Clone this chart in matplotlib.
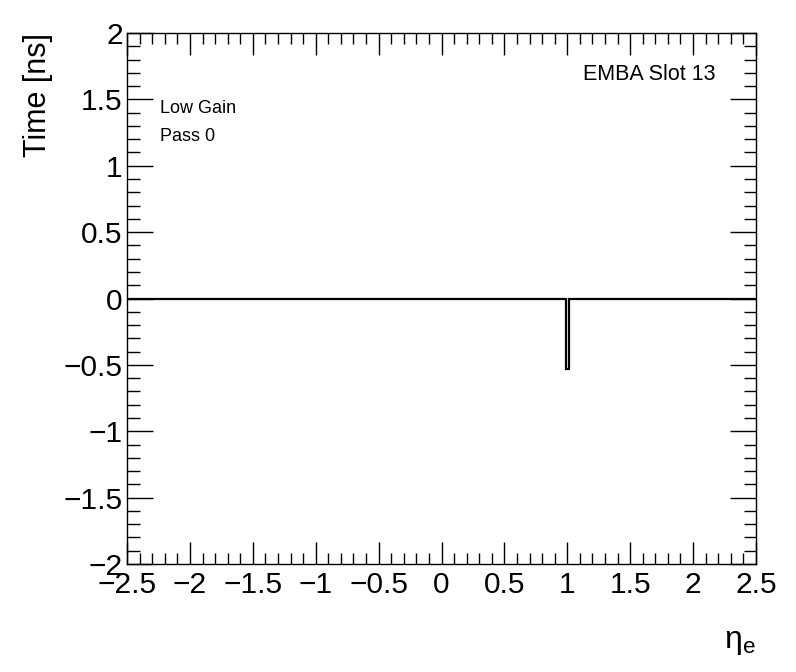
import numpy as np
import matplotlib
matplotlib.use("Agg")
import matplotlib.pyplot as plt
from matplotlib.ticker import MultipleLocator

plt.rcParams['font.family'] = ['Liberation Sans', 'DejaVu Sans']
plt.rcParams['mathtext.fontset'] = 'custom'
plt.rcParams['mathtext.rm'] = 'Liberation Sans'

# histogram bins (eta) and time values
bin_edges = [-2.5, 0.9875, 1.0125, 2.5]
time_vals = [0.0, -0.53, 0.0]

title_txt = "EMBA Slot 13"
gain_txt = "Low Gain"
pass_txt = "Pass 0"

fig = plt.figure(figsize=(7.96, 6.72), dpi=100)
ax = fig.add_axes([0.1596, 0.1607, 0.7901, 0.7902])

ax.stairs(time_vals, bin_edges, color='black', linewidth=1.6, baseline=None)

ax.set_xlim(-2.5, 2.5)
ax.set_ylim(-2, 2)

ax.xaxis.set_major_locator(MultipleLocator(0.5))
ax.xaxis.set_minor_locator(MultipleLocator(0.1))
ax.yaxis.set_major_locator(MultipleLocator(0.5))
ax.yaxis.set_minor_locator(MultipleLocator(0.1))

def fmt(v, pos):
    s = ('%g' % v)
    return s.replace('-', '\u2212')

ax.xaxis.set_major_formatter(plt.FuncFormatter(fmt))
ax.yaxis.set_major_formatter(plt.FuncFormatter(fmt))

ax.tick_params(which='both', direction='in', top=True, right=True, width=1)
ax.tick_params(which='major', axis='x', length=16, labelsize=21.5, pad=5)
ax.tick_params(which='minor', axis='x', length=8)
ax.tick_params(which='major', axis='y', length=19, labelsize=21.5, pad=3)
ax.tick_params(which='minor', axis='y', length=9)
for sp in ax.spines.values():
    sp.set_linewidth(1)

ax.set_ylabel("Time [ns]", fontsize=22, loc='top', labelpad=8)
ax.set_xlabel(r"$\mathregular{\eta_{e}}$", fontsize=23, loc='right', labelpad=20)

ax.text(0.052, 0.857, gain_txt, transform=ax.transAxes, fontsize=13, va='center')
ax.text(0.052, 0.805, pass_txt, transform=ax.transAxes, fontsize=13, va='center')
ax.text(0.935, 0.922, title_txt, transform=ax.transAxes, fontsize=15.5, va='center', ha='right')

fig.savefig("out.png", dpi=100)
